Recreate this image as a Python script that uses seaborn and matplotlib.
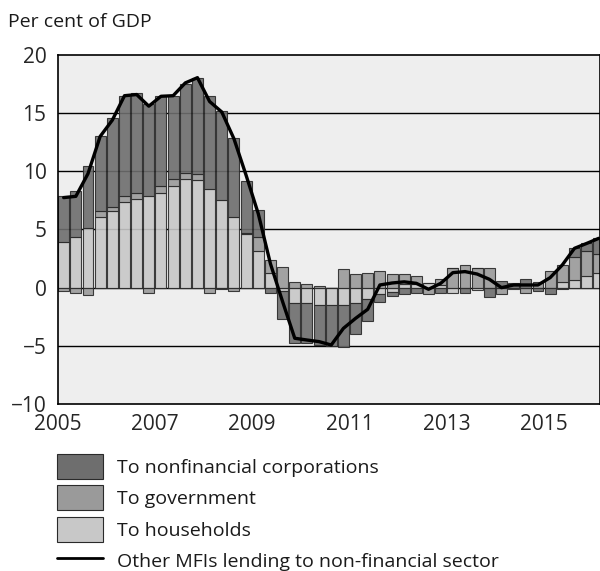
import numpy as np
import pandas as pd
import seaborn as sns
import matplotlib
matplotlib.use('Agg')
import matplotlib.pyplot as plt
from matplotlib.patches import Patch
from matplotlib.lines import Line2D

# quarterly data, 2005Q1 - 2016Q1, per cent of GDP
quarters = [f'{y}Q{q}' for y in range(2005, 2017) for q in range(1, 5)][:45]

households = [3.9, 4.35, 5.1, 6.1, 6.6, 7.35, 7.65, 7.85, 8.15, 8.75, 9.35, 9.25,
              8.5, 7.5, 6.1, 4.6, 3.15, 1.25, -0.3, -1.3, -1.35, -1.5, -1.5, -1.5,
              -1.35, -1.0, -0.55, -0.4, 0.3, 0.3, 0.37, 0.22, -0.43, 0.0, -0.2, 0.0,
              0.0, -0.1, 0.0, 0.0, 0.0, 0.5, 0.66, 1.0, 1.29]
government = [-0.3, -0.45, -0.6, 0.5, 0.35, 0.5, 0.5, -0.45, 0.55, 0.55, 0.5, 0.5,
              -0.45, -0.15, -0.3, 0.1, 1.2, 1.15, 1.75, 0.5, 0.35, 0.1, 0.0, 1.6,
              1.15, 1.3, 1.45, 1.15, 0.85, 0.7, -0.57, 0.5, 1.67, 1.95, 1.67, 1.67,
              -0.55, 0.0, -0.43, 0.52, 1.46, 1.45, 2.0, 2.15, 1.58]
corporations = [3.95, 3.95, 5.4, 6.4, 7.65, 8.65, 8.55, 7.95, 7.8, 7.2, 7.65, 8.3,
                8.0, 7.7, 6.8, 4.45, 2.3, -0.45, -2.4, -3.5, -3.45, -3.4, -3.5, -3.6,
                -2.65, -1.9, -0.65, -0.35, -0.55, -0.45, 0.0, -0.43, 0.0, -0.43, 0.0, -0.77,
                0.57, 0.37, 0.72, -0.29, -0.57, -0.14, 0.72, 0.66, 1.43]
total_mfi = [7.74, 7.85, 9.8, 13.0, 14.4, 16.5, 16.6, 15.6, 16.45, 16.5, 17.6, 18.05,
             16.0, 15.1, 12.8, 9.66, 6.36, 2.06, -1.2, -4.35, -4.5, -4.64, -4.93, -3.5,
             -2.64, -1.86, 0.23, 0.4, 0.5, 0.37, -0.14, 0.37, 1.29, 1.38, 1.17, 0.72,
             0.0, 0.23, 0.23, 0.23, 0.86, 1.95, 3.38, 3.8, 4.24]

series = [('To households', households, '#c8c8c8'),
          ('To government', government, '#9a9a9a'),
          ('To nonfinancial corporations', corporations, '#6e6e6e')]

# decimal year at the middle of each quarter
xpos = np.array([int(q[:4]) + (int(q[-1]) - 1) * 0.25 + 0.125 for q in quarters])

sns.set_style('white')
plt.rcParams['font.family'] = ['Open Sans', 'DejaVu Sans']
plt.rcParams['text.color'] = '#1a1a1a'

fig = plt.figure(figsize=(6, 5.71), dpi=100)
ax = fig.add_axes([0.096, 0.2925, 0.904, 0.6112])
ax.set_facecolor('#eeeeee')

for yv in [-5, 0, 5, 10, 15]:
    ax.axhline(yv, color='black', lw=1, zorder=1)

pos_base = np.zeros(len(xpos))
neg_base = np.zeros(len(xpos))
for name, vals, col in series:
    v = np.array(vals)
    base = np.where(v >= 0, pos_base, neg_base)
    ax.bar(xpos, v, bottom=base, width=0.225, color=col, edgecolor='#2a2a2a',
           linewidth=0.8, alpha=0.9, zorder=2)
    pos_base += np.where(v >= 0, v, 0)
    neg_base += np.where(v < 0, v, 0)

df = pd.DataFrame({'x': xpos, 'y': total_mfi})
sns.lineplot(data=df, x='x', y='y', ax=ax, color='black', lw=2.4, zorder=3)

ax.set_xlim(2005, 2016.15)
ax.set_ylim(-10, 20)
ax.set_yticks(range(-10, 21, 5))
ax.set_yticklabels(['\u221210', '\u22125', '0', '5', '10', '15', '20'])
ax.set_xticks(range(2005, 2017))
ax.set_xticklabels([str(y) if y % 2 == 1 else '' for y in range(2005, 2017)])
ax.tick_params(axis='y', length=0, pad=8, labelsize=15)
ax.tick_params(axis='x', length=7, width=1, direction='out', color='black',
               pad=0, labelsize=15)
ax.set_xlabel('')
ax.set_ylabel('')
for s in ax.spines.values():
    s.set_color('black')
    s.set_linewidth(1.2)

fig.text(0.013, 0.962, 'Per cent of GDP', fontsize=14, va='center', ha='left')

handles = [Patch(facecolor='#6e6e6e', edgecolor='#2a2a2a', lw=0.8),
           Patch(facecolor='#9a9a9a', edgecolor='#2a2a2a', lw=0.8),
           Patch(facecolor='#c8c8c8', edgecolor='#2a2a2a', lw=0.8),
           Line2D([0], [0], color='black', lw=2)]
labels = ['To nonfinancial corporations', 'To government', 'To households',
          'Other MFIs lending to non-financial sector']
fig.legend(handles, labels, loc='upper left', bbox_to_anchor=(0.095, 0.205),
           frameon=False, fontsize=14, handlelength=2.37, handleheight=1.6,
           handletextpad=0.72, labelspacing=0.33, borderaxespad=0, borderpad=0)

fig.savefig('out.png', dpi=100)
